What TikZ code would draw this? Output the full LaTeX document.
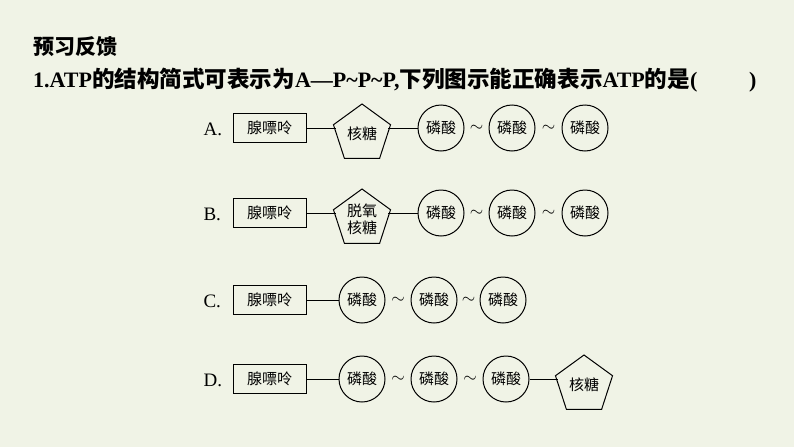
\documentclass[tikz,border=0pt]{standalone}
\usepackage{fontspec}
\setmainfont{Liberation Serif}
\newfontfamily\cjk{Noto Sans CJK SC}
\usetikzlibrary{shapes.geometric}
\definecolor{bg}{HTML}{F0F3E6}
\begin{document}
\begin{tikzpicture}[x=1pt,y=-1pt,
  box/.style={draw,line width=1pt,minimum width=73pt,minimum height=29pt,font=\cjk\fontsize{15}{15}\selectfont,inner sep=0pt},
  sugar/.style={draw,line width=1pt,regular polygon,regular polygon sides=5,minimum size=60pt,inner sep=0pt,font=\cjk\fontsize{15}{17}\selectfont,align=center},
  phos/.style={draw,line width=1pt,circle,minimum size=46pt,inner sep=0pt,font=\cjk\fontsize{15}{15}\selectfont},
  lab/.style={font=\fontsize{19}{19}\selectfont,anchor=west},
  ln/.style={line width=1pt},
  tl/.style={midway,font=\fontsize{16}{16}\selectfont,inner sep=0pt}]
\fill[bg] (0,0) rectangle (794,447);
\node[anchor=west,font=\cjk\bfseries\fontsize{21}{21}\selectfont] (title) at (30,47) {预习反馈};
\node[anchor=west,font=\fontsize{20}{20}\selectfont\bfseries,inner sep=0pt,scale=1.1,transform shape] (q) at (33,80) {1.ATP{\cjk\fontsize{20.5}{20}\selectfont 的结构简式可表示为}A—P\textasciitilde P\textasciitilde P,{\cjk\fontsize{20.5}{20}\selectfont 下列图示能正确表示}ATP{\cjk\fontsize{20.5}{20}\selectfont 的是}(\hspace{47pt})};
% A
\node[lab] (la) at (200,129) {A.};
\node[box] (a1) at (269.5,128) {腺嘌呤};
\node[sugar] (a2) at (362,134) {核糖};
\node[phos] (a3) at (441,128) {磷酸};
\node[phos] (a4) at (512,128) {磷酸};
\node[phos] (a5) at (585,128) {磷酸};
\draw[ln] (a1) -- (a2.west|-a1); \draw[ln] (a2.east|-a3) -- (a3);
\path (a3) -- node[tl]{$\sim$} (a4); \path (a4) -- node[tl]{$\sim$} (a5);
% B
\node[lab] (lb) at (200,214) {B.};
\node[box] (b1) at (269.5,213) {腺嘌呤};
\node[sugar] (b2) at (362,219) {脱氧\\核糖};
\node[phos] (b3) at (441,213) {磷酸};
\node[phos] (b4) at (512,213) {磷酸};
\node[phos] (b5) at (585,213) {磷酸};
\draw[ln] (b1) -- (b2.west|-b1); \draw[ln] (b2.east|-b3) -- (b3);
\path (b3) -- node[tl]{$\sim$} (b4); \path (b4) -- node[tl]{$\sim$} (b5);
% C
\node[lab] (lc) at (200,301) {C.};
\node[box] (c1) at (269.5,300) {腺嘌呤};
\node[phos] (c2) at (362,300) {磷酸};
\node[phos] (c3) at (434,300) {磷酸};
\node[phos] (c4) at (503,300) {磷酸};
\draw[ln] (c1) -- (c2);
\path (c2) -- node[tl]{$\sim$} (c3); \path (c3) -- node[tl]{$\sim$} (c4);
% D
\node[lab] (ld) at (200,380) {D.};
\node[box] (d1) at (269.5,379) {腺嘌呤};
\node[phos] (d2) at (362,379) {磷酸};
\node[phos] (d3) at (434,379) {磷酸};
\node[phos] (d4) at (506,379) {磷酸};
\node[sugar] (d5) at (584,385) {核糖};
\draw[ln] (d1) -- (d2);
\path (d2) -- node[tl]{$\sim$} (d3); \path (d3) -- node[tl]{$\sim$} (d4);
\draw[ln] (d4) -- (d5.west|-d4);
\end{tikzpicture}
\end{document}
